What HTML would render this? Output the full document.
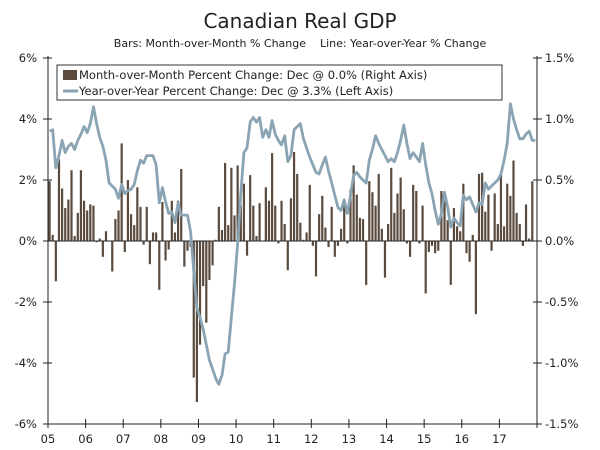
<!DOCTYPE html>
<html><head><meta charset="utf-8"><style>
body{margin:0;background:#fff;}
svg{display:block;font-family:"DejaVu Sans","Liberation Sans",sans-serif;}
</style></head><body>
<svg id="chart" width="600" height="450" viewBox="0 0 600 450">
<text x="300" y="28" text-anchor="middle" font-size="20" fill="#222">Canadian Real GDP</text>
<text x="300" y="47" text-anchor="middle" font-size="11" fill="#222" style="white-space:pre" xml:space="preserve">Bars: Month-over-Month % Change    Line: Year-over-Year % Change</text>
<g id="plot"></g>
<g>
<rect x="57" y="65" width="445" height="35" fill="#fff" stroke="#333" stroke-width="1"/>
<rect x="63" y="70" width="14" height="10" fill="#5a4b3e"/>
<text x="79" y="79" font-size="11.5" fill="#222">Month-over-Month Percent Change: Dec @ 0.0% (Right Axis)</text>
<line x1="63" y1="91" x2="78" y2="91" stroke="#8aa4b4" stroke-width="3"/>
<text x="79" y="95" font-size="11.5" fill="#222">Year-over-Year Percent Change: Dec @ 3.3% (Left Axis)</text>
</g>
</svg>
<script>
const yearLabels=["05","06","07","08","09","10","11","12","13","14","15","16","17"];
const leftTicks=[-6,-4,-2,0,2,4,6];
const rightTicks=["-1.5%","-1.0%","-0.5%","0.0%","0.5%","1.0%","1.5%"];
const mom=[0.49,0.05,-0.33,0.67,0.43,0.27,0.34,0.58,0.04,0.23,0.58,0.33,
0.25,0.30,0.29,-0.01,0.02,-0.13,0.08,0.0,-0.25,0.18,0.25,0.80,
-0.09,0.5,0.22,0.13,0.44,0.28,-0.03,0.28,-0.19,0.07,0.07,-0.4,
0.32,-0.16,-0.07,0.33,0.07,0.33,0.59,-0.21,-0.08,-0.05,-1.12,-1.32,
-0.85,-0.37,-0.67,-0.32,-0.2,0.01,0.28,0.09,0.64,0.13,0.6,0.21,
0.62,0.29,0.47,-0.12,0.54,0.29,0.04,0.31,0.0,0.44,0.33,0.72,
0.29,-0.02,0.33,0.14,-0.24,0.35,0.73,0.55,0.15,0.01,0.07,0.46,
-0.04,-0.29,0.22,0.37,0.11,-0.05,0.28,-0.13,-0.04,0.1,0.29,-0.02,
0.42,0.62,0.38,0.19,0.18,-0.36,0.49,0.4,0.29,0.55,0.1,-0.3,
0.14,0.6,0.23,0.39,0.52,0.26,-0.02,-0.13,0.46,0.41,-0.02,0.29,
-0.43,-0.09,-0.04,-0.1,-0.08,0.41,0.38,0.17,-0.36,0.27,0.12,0.08,
0.47,-0.1,-0.17,0.05,-0.6,0.55,0.56,0.24,0.38,-0.08,0.39,0.14,
0.57,0.12,0.47,0.37,0.66,0.23,0.14,-0.04,0.3,0.02,0.49,0.0];
const yoy=[3.6,3.65,2.4,2.8,3.3,2.9,3.1,3.2,3.0,3.3,3.5,3.75,
3.55,3.85,4.4,3.85,3.4,3.1,2.65,1.9,1.8,1.7,1.4,1.85,
1.55,1.65,1.7,1.85,2.3,2.65,2.55,2.8,2.8,2.8,2.5,1.25,
1.75,1.3,0.9,0.95,0.6,1.25,0.85,0.85,0.85,0.3,-1.0,-2.2,
-2.5,-2.9,-3.4,-3.9,-4.2,-4.5,-4.7,-4.4,-3.7,-3.65,-2.5,-1.4,
-0.1,1.55,2.9,3.05,3.9,4.05,3.9,4.05,3.4,3.65,3.4,3.95,
3.5,3.3,3.15,3.45,2.6,2.8,3.65,3.75,3.85,3.35,3.05,2.75,
2.5,2.25,2.2,2.5,2.75,2.3,1.9,1.5,1.1,1.0,1.35,0.9,
1.5,2.15,2.25,2.1,2.0,1.9,2.65,3.0,3.45,3.2,3.0,2.8,
2.6,2.7,2.6,2.9,3.3,3.8,3.2,2.7,2.9,2.75,2.6,3.2,
2.5,1.9,1.55,1.0,0.55,0.9,1.6,1.1,0.45,0.75,0.6,0.5,
1.5,1.35,1.45,1.2,0.95,1.25,1.2,1.9,1.7,1.8,1.9,2.0,
2.2,2.65,3.2,4.5,4.0,3.65,3.35,3.35,3.5,3.6,3.3,3.3];
const NS="http://www.w3.org/2000/svg";
const plot=document.getElementById('plot');
const X0=48,X1=537,Y0=58,Y1=424;
const nM=yearLabels.length*12;
const xM=i=>X0+(i+0.5)*(X1-X0)/nM;
const xY=k=>X0+k*12*(X1-X0)/nM;
const yL=v=>Y0+(6-v)/12*(Y1-Y0);
const yR=v=>yL(v*4);
function mk(t,a){const e=document.createElementNS(NS,t);for(const k in a)e.setAttribute(k,a[k]);plot.appendChild(e);return e;}
mom.forEach((v,i)=>{
 const y=Math.min(yR(v),yR(0)),h=Math.abs(yR(v)-yR(0));
 const b=mk('rect',{x:xM(i)-1.1,y:y,width:2.2,height:Math.max(h,0.01),fill:'#5a4b3e'});
 
 
});
const z=mk('line',{x1:X0,x2:X1,y1:yL(0),y2:yL(0),stroke:'#222','stroke-width':1});


const pts=yoy.map((v,i)=>xM(i).toFixed(1)+','+yL(v).toFixed(1)).join(' ');
const pl=mk('polyline',{points:pts,fill:'none',stroke:'#8aa4b4','stroke-width':2.8,'stroke-linejoin':'round'});


const ax=mk('path',{d:`M${X0},${Y0-2}V${Y1}H${X1}V${Y0-2}`,fill:'none',stroke:'#222','stroke-width':1});


leftTicks.forEach((v,k)=>{
 const y=yL(v);
 const t=mk('line',{x1:X0-5,x2:X0+4,y1:y,y2:y,stroke:'#222'});
 
 
 const l=mk('text',{x:X0-11,y:y+4,'text-anchor':'end','font-size':11.5,fill:'#222'});
 l.textContent=v+'%';
 
 
 const t2=mk('line',{x1:X1-4,x2:X1+5,y1:y,y2:y,stroke:'#222'});
 
 
 const r=mk('text',{x:X1+8,y:y+4,'font-size':11.5,fill:'#222'});
 r.textContent=rightTicks[k];
 
 
});
for(let k=0;k<=yearLabels.length;k++){
 const x=xY(k);
 const t=mk('line',{x1:x,x2:x,y1:Y1-5,y2:Y1+4,stroke:'#222'});
 
 
 if(k<yearLabels.length){
  const l=mk('text',{x:x,y:Y1+19,'text-anchor':'middle','font-size':11.5,fill:'#222'});
  l.textContent=yearLabels[k];
  
  
 }
}
</script>
</body></html>
